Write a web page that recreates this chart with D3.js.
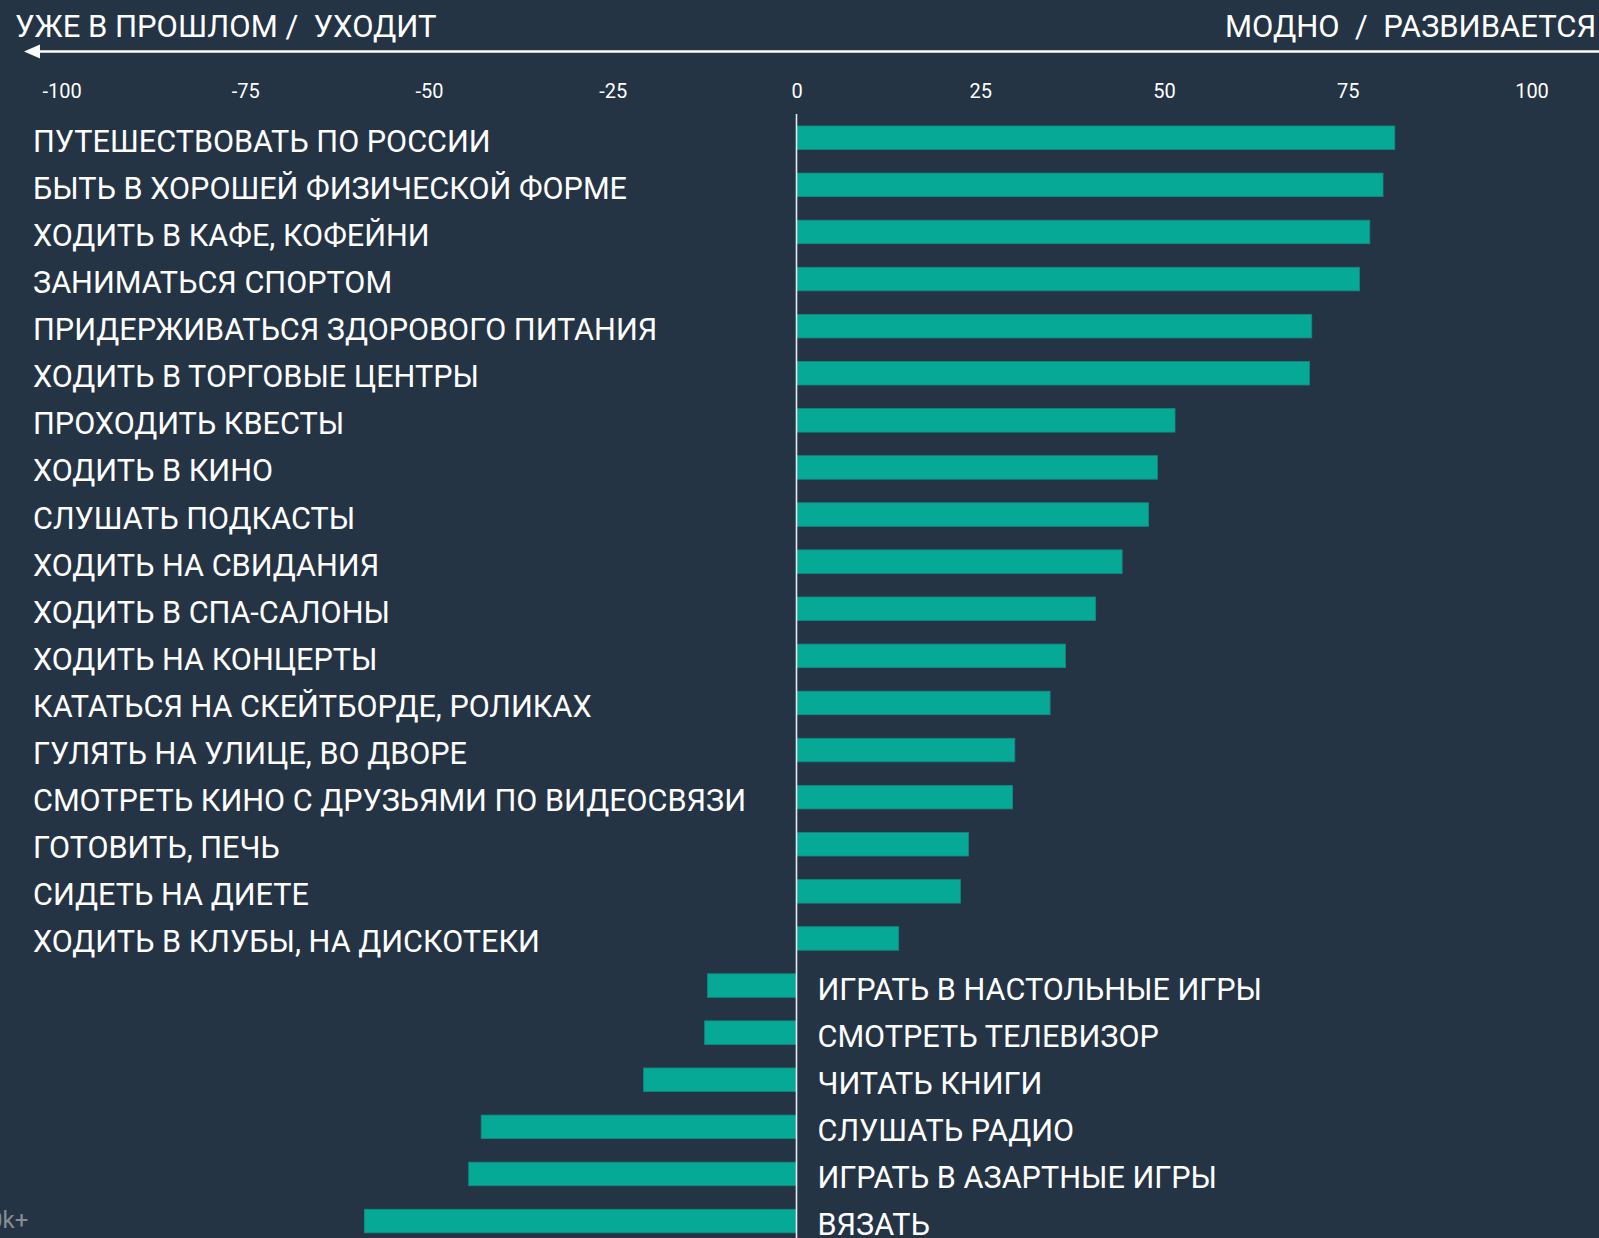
<!DOCTYPE html>
<html>
<head>
<meta charset="utf-8">
<script src="https://cdn.jsdelivr.net/npm/d3@7"></script>
<style>
  html, body { margin: 0; padding: 0; background: #243445; overflow: hidden; }
  svg { display: block; }
  text { font-family: Roboto, "Noto Sans", sans-serif; fill: #ffffff; }
</style>
</head>
<body>
<script>
(function(){

	//activities, top to bottom
	var categories = [
		"ПУТЕШЕСТВОВАТЬ ПО РОССИИ",
		"БЫТЬ В ХОРОШЕЙ ФИЗИЧЕСКОЙ ФОРМЕ",
		"ХОДИТЬ В КАФЕ, КОФЕЙНИ",
		"ЗАНИМАТЬСЯ СПОРТОМ",
		"ПРИДЕРЖИВАТЬСЯ ЗДОРОВОГО ПИТАНИЯ",
		"ХОДИТЬ В ТОРГОВЫЕ ЦЕНТРЫ",
		"ПРОХОДИТЬ КВЕСТЫ",
		"ХОДИТЬ В КИНО",
		"СЛУШАТЬ ПОДКАСТЫ",
		"ХОДИТЬ НА СВИДАНИЯ",
		"ХОДИТЬ В СПА-САЛОНЫ",
		"ХОДИТЬ НА КОНЦЕРТЫ",
		"КАТАТЬСЯ НА СКЕЙТБОРДЕ, РОЛИКАХ",
		"ГУЛЯТЬ НА УЛИЦЕ, ВО ДВОРЕ",
		"СМОТРЕТЬ КИНО С ДРУЗЬЯМИ ПО ВИДЕОСВЯЗИ",
		"ГОТОВИТЬ, ПЕЧЬ",
		"СИДЕТЬ НА ДИЕТЕ",
		"ХОДИТЬ В КЛУБЫ, НА ДИСКОТЕКИ",
		"ИГРАТЬ В НАСТОЛЬНЫЕ ИГРЫ",
		"СМОТРЕТЬ ТЕЛЕВИЗОР",
		"ЧИТАТЬ КНИГИ",
		"СЛУШАТЬ РАДИО",
		"ИГРАТЬ В АЗАРТНЫЕ ИГРЫ",
		"ВЯЗАТЬ"
	];

	//balance score
	var values = [81.4, 79.8, 78.0, 76.6, 70.1, 69.8, 51.5, 49.1, 47.9, 44.3, 40.7, 36.6,
		34.5, 29.7, 29.4, 23.4, 22.3, 13.9, -12.1, -12.5, -20.8, -42.9, -44.6, -58.8];

	var tickValues = [-100, -75, -50, -25, 0, 25, 50, 75, 100];

	var leftTitle = "УЖЕ В ПРОШЛОМ /  УХОДИТ",
		rightTitle = "МОДНО  /  РАЗВИВАЕТСЯ",
		footNote = "0k+";

	var width = 1599,
		height = 1238;

	var data = categories.map(function(c, i){
		return { name: c, value: values[i] };
	});

	var svg = d3.select("body")
		.append("svg")
		.attr("width", width)
		.attr("height", height);

	svg.append("rect")
		.attr("width", width)
		.attr("height", height)
		.attr("fill", "#243445");

	//scales
	var x = d3.scaleLinear()
		.domain([-100, 100])
		.range([61.5, 1531.5]);

	var y = d3.scaleBand()
		.domain(categories)
		.range([114.2, 114.2 + 47.1 * categories.length])
		.paddingInner(0.5)
		.paddingOuter(0.25);

	//headers above the arrow
	svg.append("text")
		.attr("x", 15)
		.attr("y", 37)
		.attr("font-size", 31)
		.style("white-space", "pre")
		.text(leftTitle);

	svg.append("text")
		.attr("x", 1225)
		.attr("y", 37)
		.attr("font-size", 31)
		.style("white-space", "pre")
		.text(rightTitle);

	//arrow pointing left
	svg.append("line")
		.attr("x1", 36)
		.attr("x2", width)
		.attr("y1", 51.5)
		.attr("y2", 51.5)
		.attr("stroke", "#ffffff")
		.attr("stroke-width", 2.5);

	svg.append("path")
		.attr("d", "M24,51.5 L40,44.5 L40,58.5 Z")
		.attr("fill", "#ffffff");

	//value axis on top
	var xAxis = d3.axisTop(x)
		.tickValues(tickValues)
		.tickSize(0)
		.tickPadding(0)
		.tickFormat(function(d){ return String(d); });

	var axis = svg.append("g")
		.attr("class", "axis")
		.attr("transform", "translate(0,97.5)")
		.call(xAxis);

	axis.select(".domain").remove();
	axis.selectAll("text")
		.attr("font-size", 20)
		.attr("font-family", "Roboto, sans-serif")
		.attr("fill", "#ffffff");

	//bars
	svg.selectAll(".bar")
		.data(data)
		.enter()
		.append("rect")
		.attr("class", "bar")
		.attr("x", function(d){ return x(Math.min(0, d.value)); })
		.attr("y", function(d){ return y(d.name); })
		.attr("width", function(d){ return Math.abs(x(d.value) - x(0)); })
		.attr("height", y.bandwidth())
		.attr("fill", "#06a996")
		.attr("stroke", "#128a80")
		.attr("stroke-width", 0.8);

	//zero line
	svg.append("line")
		.attr("x1", x(0))
		.attr("x2", x(0))
		.attr("y1", 114)
		.attr("y2", height)
		.attr("stroke", "#e6eaee")
		.attr("stroke-width", 1.6);

	//category labels: left for positive, right of zero for negative
	svg.selectAll(".label")
		.data(data)
		.enter()
		.append("text")
		.attr("class", "label")
		.attr("x", function(d){ return d.value >= 0 ? 33 : x(0) + 21; })
		.attr("y", function(d){ return y(d.name) + y.bandwidth() / 2 + 14; })
		.attr("font-size", 30.6)
		.text(function(d){ return d.name; });

	//cropped note in the corner
	svg.append("text")
		.attr("x", -11)
		.attr("y", 1228)
		.attr("font-size", 24)
		.style("fill", "#868d96")
		.text(footNote);

})();
</script>
</body>
</html>
